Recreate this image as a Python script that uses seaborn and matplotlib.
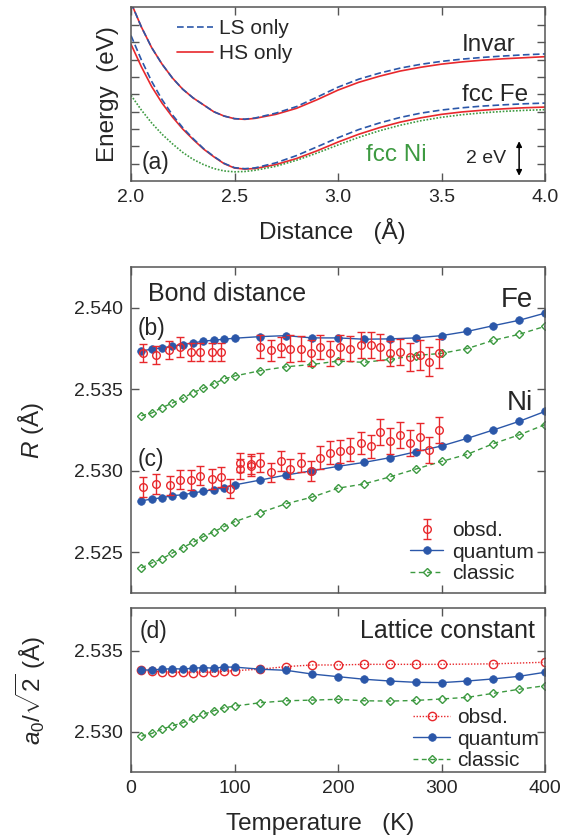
import numpy as np
import pandas as pd
import seaborn as sns
import matplotlib.pyplot as plt

# ---- panel (a): potential curves (eV, arbitrary offset)
dist = [2.0, 2.05, 2.1, 2.15, 2.2, 2.25, 2.3, 2.35, 2.4, 2.45, 2.5, 2.55, 2.6,
        2.7, 2.8, 2.9, 3.0, 3.1, 3.2, 3.3, 3.4, 3.5, 3.6, 3.7, 3.8, 3.9, 4.0]
invar_hs = [10.3, 8.9, 7.7, 6.75, 5.95, 5.3, 4.8, 4.4, 4.0, 3.75, 3.6, 3.56, 3.62,
            3.85, 4.2, 4.7, 5.25, 5.7, 6.05, 6.35, 6.57, 6.75, 6.88, 6.98, 7.06, 7.12, 7.18]
invar_ls = [10.3, 8.9, 7.7, 6.75, 5.95, 5.3, 4.8, 4.4, 4.0, 3.75, 3.6, 3.57, 3.64,
            3.92, 4.3, 4.85, 5.42, 5.88, 6.23, 6.52, 6.74, 6.91, 7.04, 7.14, 7.22, 7.29, 7.34]
fe_hs = [7.9, 6.6, 5.45, 4.5, 3.7, 3.0, 2.4, 1.85, 1.4, 1.0, 0.75, 0.69, 0.72,
         0.95, 1.3, 1.75, 2.25, 2.7, 3.08, 3.4, 3.65, 3.85, 3.99, 4.09, 4.17, 4.23, 4.27]
fe_ls = [8.4, 7.0, 5.75, 4.7, 3.82, 3.08, 2.45, 1.88, 1.42, 1.02, 0.77, 0.71, 0.76,
         1.05, 1.47, 1.98, 2.5, 2.97, 3.35, 3.67, 3.92, 4.1, 4.23, 4.33, 4.4, 4.46, 4.5]
ni_curve = [4.95, 4.1, 3.35, 2.7, 2.15, 1.65, 1.25, 0.95, 0.72, 0.58, 0.53, 0.55, 0.62,
            0.85, 1.2, 1.62, 2.08, 2.52, 2.9, 3.22, 3.48, 3.68, 3.83, 3.94, 4.02, 4.08, 4.12]

# ---- panels (b), (c), (d): calculated values
temp_calc = [10, 20, 30, 40, 50, 60, 70, 80, 90, 100, 125, 150, 175, 200, 225,
             250, 275, 300, 325, 350, 375, 400]
fe_quantum = [2.53735, 2.53746, 2.53754, 2.53764, 2.53774, 2.53784, 2.53795, 2.53801,
              2.53807, 2.53813, 2.53823, 2.53829, 2.53815, 2.53815, 2.53807, 2.53809,
              2.53815, 2.53829, 2.53855, 2.5389, 2.53923, 2.53967]
fe_classic = [2.53337, 2.53354, 2.53388, 2.53415, 2.53445, 2.5348, 2.53506, 2.53534,
              2.53563, 2.53581, 2.53614, 2.53638, 2.53652, 2.53673, 2.53665, 2.53683,
              2.53707, 2.5372, 2.5375, 2.5380, 2.53837, 2.53886]
ni_quantum = [2.52815, 2.52827, 2.52834, 2.52848, 2.52852, 2.52864, 2.52874, 2.52884,
              2.52896, 2.52913, 2.52943, 2.52974, 2.5300, 2.53027, 2.53051, 2.5308,
              2.53116, 2.53152, 2.53199, 2.5325, 2.53303, 2.53364]
ni_classic = [2.52404, 2.52434, 2.5246, 2.52495, 2.52529, 2.52561, 2.52596, 2.52626,
              2.52657, 2.52687, 2.52743, 2.52798, 2.52838, 2.52893, 2.52919, 2.52962,
              2.5301, 2.53057, 2.53101, 2.53166, 2.5322, 2.53283]
lat_quantum = [2.53382, 2.53382, 2.53387, 2.5339, 2.53388, 2.53393, 2.53397, 2.53393,
               2.534, 2.534, 2.53387, 2.5338, 2.53357, 2.53341, 2.53325, 2.53314,
               2.53306, 2.53304, 2.53314, 2.53327, 2.53343, 2.53368]
lat_classic = [2.52973, 2.5299, 2.53017, 2.53037, 2.53056, 2.53083, 2.53108, 2.5313,
               2.53149, 2.53159, 2.5318, 2.53192, 2.53196, 2.53201, 2.53192, 2.5319,
               2.53194, 2.53203, 2.53213, 2.53238, 2.53263, 2.53285]

# ---- observed values
fe_obs_t = [12, 24, 37, 47, 58, 67, 78, 87, 125, 135, 145, 154, 164, 174, 183, 192,
            202, 212, 222, 232, 241, 250, 260, 270, 279, 288, 298]
fe_obs = [2.5372, 2.5371, 2.5374, 2.5376, 2.5373, 2.5373, 2.5373, 2.5373, 2.5376,
          2.5374, 2.5376, 2.5375, 2.5375, 2.5372, 2.5376, 2.5372, 2.5376, 2.5375,
          2.5377, 2.5377, 2.5376, 2.5372, 2.5373, 2.5370, 2.5371, 2.5367, 2.5372]
fe_err = [0.00055, 0.00055, 0.00055, 0.0006, 0.00055, 0.00055, 0.00055, 0.00055, 0.0007,
          0.00065, 0.0006, 0.0008, 0.00075, 0.0008, 0.00075, 0.00075, 0.00075, 0.00075,
          0.0008, 0.0008, 0.0008, 0.00075, 0.0008, 0.00085, 0.0009, 0.0009, 0.0009]
ni_obs_t = [12, 24, 38, 47, 58, 67, 78, 87, 96, 105, 105, 116, 116, 125, 135, 145,
            154, 164, 174, 183, 192, 202, 212, 222, 232, 241, 250, 260, 270, 279, 288, 298]
ni_obs = [2.5290, 2.5292, 2.5291, 2.52945, 2.52944, 2.5297, 2.5295, 2.5296, 2.5289,
          2.5305, 2.5301, 2.5304, 2.5303, 2.5305, 2.5299, 2.5306, 2.5301, 2.5305,
          2.5300, 2.5308, 2.5311, 2.5312, 2.5313, 2.5317, 2.5315, 2.5324, 2.5318,
          2.5322, 2.5317, 2.5321, 2.5313, 2.5325]
ni_err = [0.0006, 0.0006, 0.0006, 0.0006, 0.0006, 0.0006, 0.0006, 0.0006, 0.0006,
          0.0006, 0.0006, 0.0006, 0.0006, 0.0006, 0.0006, 0.0006, 0.0006, 0.0006,
          0.0006, 0.0007, 0.0007, 0.0007, 0.0007, 0.0007, 0.0007, 0.0008, 0.0008,
          0.0008, 0.0008, 0.0008, 0.0008, 0.0008]
lat_obs_t = [10, 20, 30, 40, 50, 60, 70, 80, 90, 100, 125, 150, 175, 200, 225, 250,
             275, 300, 350, 400]
lat_obs = [2.53382, 2.53376, 2.53372, 2.53368, 2.53368, 2.53366, 2.53368, 2.53368,
           2.53374, 2.53378, 2.53387, 2.53403, 2.53413, 2.53413, 2.53417, 2.53417,
           2.53417, 2.53417, 2.5342, 2.5343]

BLUE = '#2b57a9'
RED = '#e8282c'
GREEN = '#3d9a41'
SPINE = '#555555'

sns.set_style('ticks')
plt.rcParams['font.family'] = ['Liberation Sans', 'DejaVu Sans']
plt.rcParams['mathtext.fontset'] = 'custom'
plt.rcParams['mathtext.rm'] = 'Liberation Sans'
plt.rcParams['mathtext.it'] = 'Liberation Sans:italic'
plt.rcParams['axes.edgecolor'] = SPINE
plt.rcParams['axes.linewidth'] = 1.1

fig = plt.figure(figsize=(5.63, 8.39), dpi=100)
W, H = 563.0, 839.0
L, R = 131, 545


def box(top, bottom):
    return [L / W, 1 - bottom / H, (R - L) / W, (bottom - top) / H]


ax_a = fig.add_axes(box(7, 181))
ax_b = fig.add_axes(box(267, 593))
ax_d = fig.add_axes(box(608, 772))

for ax in (ax_a, ax_b, ax_d):
    ax.tick_params(direction='in', top=True, right=True, length=5.5, width=1,
                   color=SPINE, labelsize=14, pad=6)

# ---------------- (a)
dashed = (0, (4, 2))
for y in (invar_hs, fe_hs):
    sns.lineplot(x=dist, y=y, color=RED, lw=1.2, sort=False, estimator=None,
                 legend=False, ax=ax_a)
for y in (invar_ls, fe_ls):
    sns.lineplot(x=dist, y=y, color=BLUE, lw=1.2, linestyle=dashed, sort=False,
                 estimator=None, legend=False, ax=ax_a)
sns.lineplot(x=dist, y=ni_curve, color=GREEN, lw=1.2, linestyle=(0, (1, 1)),
             sort=False, estimator=None, legend=False, ax=ax_a)
ax_a.set_xlim(2.0, 4.0)
ax_a.set_ylim(0, 10.05)
ax_a.set_xticks([2.0, 2.5, 3.0, 3.5, 4.0])
ax_a.set_xticklabels(['2.0', '2.5', '3.0', '3.5', '4.0'])
ax_a.set_yticks(range(1, 10))
ax_a.set_yticklabels([])
ax_a.set_xlabel('Distance   (Å)', fontsize=17.5)
ax_a.xaxis.set_label_coords(0.486, -0.21, transform=ax_a.transAxes)
ax_a.set_ylabel('Energy  (eV)', fontsize=17.5)
ax_a.yaxis.set_label_coords(-0.03, 0.5)

ls_h, = ax_a.plot([], [], color=BLUE, lw=1.2, linestyle=dashed)
hs_h, = ax_a.plot([], [], color=RED, lw=1.2)
ax_a.legend([ls_h, hs_h], ['LS only', 'HS only'], loc='upper left',
            bbox_to_anchor=(0.111, 0.93), frameon=False, fontsize=15,
            handlelength=1.75, handletextpad=0.25, labelspacing=0.3,
            borderpad=0, borderaxespad=0)

ax_a.text(3.60, 7.85, 'Invar', fontsize=17.5, va='center')
ax_a.text(3.60, 4.95, 'fcc Fe', fontsize=17.5, va='center')
ax_a.text(3.135, 1.5, 'fcc Ni', fontsize=17.5, va='center', color=GREEN)
ax_a.text(2.05, 1.05, '(a)', fontsize=16.5, va='center')
ax_a.text(3.81, 1.3, '2 eV', fontsize=14, va='center', ha='right')
ax_a.annotate('', xy=(3.875, 0.3), xytext=(3.875, 2.3),
              arrowprops=dict(arrowstyle='<|-|>', color='black', lw=1.1,
                              mutation_scale=8, shrinkA=0, shrinkB=0))

# ---------------- (b) and (c)
obs_kw = dict(fmt='o', ms=5.5, mfc='none', mec=RED, mew=1, ecolor=RED,
              elinewidth=1, capsize=2.6, capthick=1)
q_kw = dict(color=BLUE, lw=1, marker='o', ms=5.5, mec=BLUE, mew=0.5,
            sort=False, estimator=None, legend=False)
c_kw = dict(color=GREEN, lw=1, linestyle=(0, (3.5, 2.5)), marker='D', ms=4.5,
            mfc='none', mec=GREEN, mew=1, sort=False, estimator=None, legend=False)

sns.lineplot(x=temp_calc, y=fe_classic, ax=ax_b, **c_kw)
sns.lineplot(x=temp_calc, y=ni_classic, ax=ax_b, label='classic', **c_kw)
sns.lineplot(x=temp_calc, y=fe_quantum, ax=ax_b, **q_kw)
sns.lineplot(x=temp_calc, y=ni_quantum, ax=ax_b, label='quantum', **q_kw)
ax_b.errorbar(fe_obs_t, fe_obs, yerr=fe_err, **obs_kw)
ax_b.errorbar(ni_obs_t, ni_obs, yerr=ni_err, label='obsd.', **obs_kw)

ax_b.set_xlim(0, 400)
ax_b.set_ylim(2.5225, 2.5425)
ax_b.set_xticks([0, 100, 200, 300, 400])
ax_b.set_xticklabels([])
ax_b.set_yticks([2.525, 2.530, 2.535, 2.540])
ax_b.set_yticklabels(['2.525', '2.530', '2.535', '2.540'])
ax_b.set_ylabel('$R$ (Å)', fontsize=17.5)
ax_b.yaxis.set_label_coords(-0.205, 0.5)

hb, lb = ax_b.get_legend_handles_labels()
order = [lb.index(k) for k in ('obsd.', 'quantum', 'classic')]
ax_b.legend([hb[i] for i in order], [lb[i] for i in order], loc='upper left',
            bbox_to_anchor=(0.674, 0.22), frameon=False, fontsize=15,
            handlelength=1.6, handletextpad=0.4, labelspacing=0.12,
            borderpad=0, borderaxespad=0)

ax_b.text(16, 2.54087, 'Bond distance', fontsize=18, va='center')
ax_b.text(6.5, 2.53874, '(b)', fontsize=16.5, va='center')
ax_b.text(6.5, 2.53071, '(c)', fontsize=16.5, va='center')
ax_b.text(388, 2.54045, 'Fe', fontsize=20, va='center', ha='right')
ax_b.text(388, 2.53415, 'Ni', fontsize=20, va='center', ha='right')

# ---------------- (d)
sns.lineplot(x=lat_obs_t, y=lat_obs, color=RED, lw=1, linestyle=(0, (1, 1.2)),
             marker='o', ms=6, mfc='none', mec=RED, mew=1, sort=False,
             estimator=None, legend=False, label='obsd.', ax=ax_d)
sns.lineplot(x=temp_calc, y=lat_quantum, ax=ax_d, label='quantum', **q_kw)
sns.lineplot(x=temp_calc, y=lat_classic, ax=ax_d, label='classic', **c_kw)

ax_d.set_xlim(0, 400)
ax_d.set_ylim(2.52752, 2.53765)
ax_d.set_xticks([0, 100, 200, 300, 400])
ax_d.set_xticklabels(['0', '100', '200', '300', '400'])
ax_d.set_yticks([2.530, 2.535])
ax_d.set_yticklabels(['2.530', '2.535'])
ax_d.set_xlabel('Temperature   (K)', fontsize=17.5)
ax_d.xaxis.set_label_coords(0.457, -0.25, transform=ax_d.transAxes)
ax_d.set_ylabel(r'$a_0/\sqrt{2}$ (Å)', fontsize=17.5)
ax_d.yaxis.set_label_coords(-0.2, 0.5)
ax_d.legend(loc='upper left', bbox_to_anchor=(0.681, 0.39), frameon=False,
            fontsize=15, handlelength=1.8, handletextpad=0.3, labelspacing=0.12,
            borderpad=0, borderaxespad=0)

ax_d.text(8.5, 2.5362, '(d)', fontsize=16.5, va='center')
ax_d.text(390, 2.5362, 'Lattice constant', fontsize=18, va='center', ha='right')

fig.savefig('out.png', dpi=100)
